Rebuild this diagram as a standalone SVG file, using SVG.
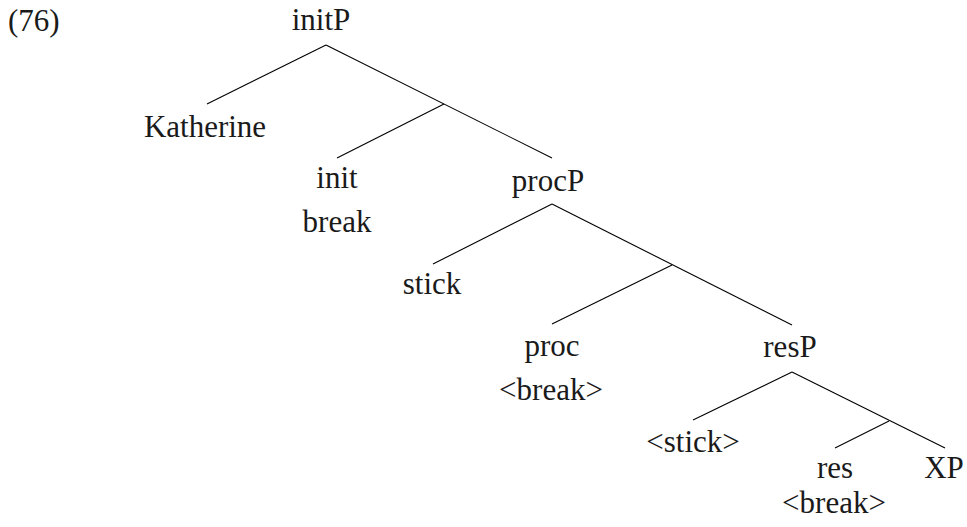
<svg xmlns="http://www.w3.org/2000/svg" width="967" height="527" viewBox="0 0 967 527">
<style>
text{font-family:"Liberation Serif","Times New Roman",serif;font-size:31px;fill:#1a1a1a;text-anchor:middle}
.e line{stroke:#000;stroke-width:1.1;fill:none}
</style>
<rect width="967" height="527" fill="#fff"/>
<text x="8" y="31" style="text-anchor:start">(76)</text>
<g class="e" id="connectors">
<line x1="326" y1="45" x2="207" y2="104"/>
<line x1="326" y1="45" x2="552" y2="158"/>
<line x1="444" y1="104" x2="337" y2="158"/>
<line x1="552" y1="204" x2="433" y2="264"/>
<line x1="552" y1="204" x2="792" y2="325"/>
<line x1="672" y1="265" x2="552" y2="324"/>
<line x1="792" y1="372" x2="693" y2="420"/>
<line x1="792" y1="372" x2="945" y2="448"/>
<line x1="889" y1="421" x2="835" y2="448"/>
</g>
<g id="initP"><text x="321" y="30">initP</text></g>
<g id="Katherine"><text x="205" y="137">Katherine</text></g>
<g id="init"><text x="337" y="188">init</text><text x="337" y="232">break</text></g>
<g id="procP"><text x="548" y="191">procP</text></g>
<g id="stick"><text x="432" y="294">stick</text></g>
<g id="proc"><text x="552" y="356">proc</text><text x="551" y="400">&lt;break&gt;</text></g>
<g id="resP"><text x="790" y="357">resP</text></g>
<g id="stick2"><text x="693" y="452">&lt;stick&gt;</text></g>
<g id="res"><text x="835" y="478">res</text><text x="834" y="513">&lt;break&gt;</text></g>
<g id="XP"><text x="944" y="478">XP</text></g>
</svg>
